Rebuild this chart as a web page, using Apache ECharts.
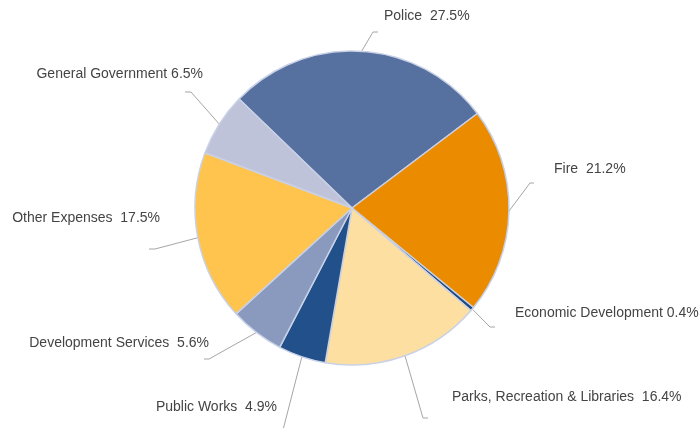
<!DOCTYPE html>
<html>
<head>
<meta charset="utf-8">
<script src="https://cdn.jsdelivr.net/npm/echarts@6/dist/echarts.min.js"></script>
<style>
  html, body { margin: 0; padding: 0; background: #ffffff; }
  #chart { width: 699px; height: 428px; }
</style>
</head>
<body>
<div id="chart"></div>
<script>
// Budget shares by department (percent)
const categories = [
  'Police',
  'Fire',
  'Economic Development',
  'Parks, Recreation & Libraries',
  'Public Works',
  'Development Services',
  'Other Expenses',
  'General Government'
];
const shares = [27.5, 21.2, 0.4, 16.4, 4.9, 5.6, 17.5, 6.5];
// Text shown between name and percentage
const separators = ['  ', '  ', ' ', '  ', '  ', '  ', '  ', ' '];
const sliceColors = [
  '#56709F', '#EB8C00', '#1F497D', '#FDDFA2',
  '#22508A', '#8A9ABF', '#FEC44E', '#BEC3DA'
];

// Leader-line elbows, tail ends and label anchors for each slice
const labelSpots = [
  { elbow: [373, 32],  tail: [378, 32],  text: [384, 16],  align: 'left' },
  { elbow: [530, 183], tail: [534, 183], text: [554, 169], align: 'left' },
  { elbow: [490, 327], tail: [495, 327], text: [515, 313], align: 'left' },
  { elbow: [423, 418], tail: [428, 418], text: [452, 397], align: 'left' },
  { elbow: [284, 426], tail: [283, 430], text: [277, 407], align: 'right' },
  { elbow: [209, 359], tail: [204, 359], text: [209, 343], align: 'right' },
  { elbow: [155, 249], tail: [149, 249], text: [160, 218], align: 'right' },
  { elbow: [191, 92],  tail: [185, 92],  text: [203, 74],  align: 'right' }
];

const chart = echarts.init(document.getElementById('chart'), null, { renderer: 'canvas' });

chart.setOption({
  animation: false,
  backgroundColor: '#ffffff',
  series: [{
    type: 'pie',
    center: [352, 208],
    radius: 157,
    startAngle: 136,
    clockwise: true,
    avoidLabelOverlap: false,
    silent: true,
    data: categories.map((name, i) => ({
      name: name,
      value: shares[i],
      itemStyle: { color: sliceColors[i] }
    })),
    itemStyle: {
      borderColor: '#C9D1E6',
      borderWidth: 1.5
    },
    label: {
      show: true,
      position: 'outside',
      color: '#444444',
      fontFamily: 'Liberation Sans, Arial, sans-serif',
      fontSize: 14,
      formatter: (p) => p.name + separators[p.dataIndex] + p.value.toFixed(1) + '%'
    },
    labelLine: {
      show: true,
      length: 20,
      length2: 5,
      lineStyle: { color: '#A6A6A6', width: 1 }
    },
    labelLayout: function (params) {
      const spot = labelSpots[params.dataIndex];
      const start = params.labelLinePoints ? params.labelLinePoints[0] : spot.elbow;
      return {
        x: spot.text[0],
        y: spot.text[1],
        align: spot.align,
        verticalAlign: 'middle',
        labelLinePoints: [start, spot.elbow, spot.tail]
      };
    },
    emphasis: { disabled: true }
  }]
});
</script>
</body>
</html>
